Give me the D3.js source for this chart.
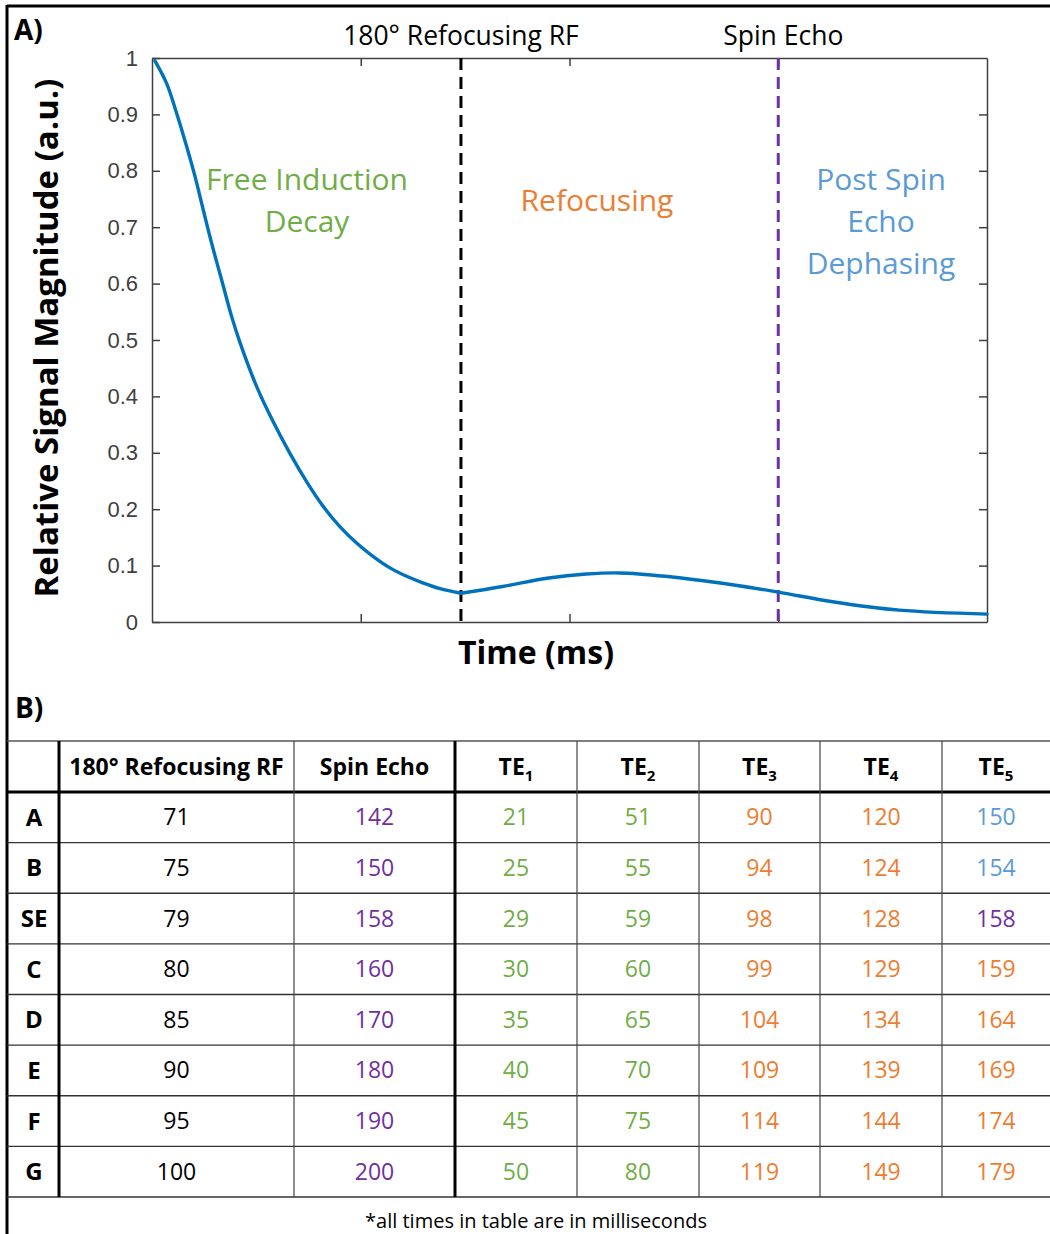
<!DOCTYPE html>
<html>
<head>
<meta charset="utf-8">
<script src="https://cdn.jsdelivr.net/npm/d3@7"></script>
<style>
  body { margin: 0; background: #fff; }
  svg { display: block; }
</style>
</head>
<body>
<svg id="fig" width="1050" height="1234"></svg>
<script>
// ---- panel A: signal curve ----
const fidTime   = [0.7, 3.5, 5.9, 8.3, 10.3, 12.3, 14.3, 16.7, 19.1, 21.1, 25.1, 29.1, 33.1, 37.1, 41, 45, 49, 53, 57, 61, 65, 69, 74]
const fidSignal = [0.995, 0.955, 0.902, 0.843, 0.790, 0.730, 0.671, 0.606, 0.541, 0.495, 0.417, 0.354, 0.298, 0.248, 0.205, 0.169, 0.140, 0.116, 0.096, 0.081, 0.069, 0.059, 0.051]
const echoTime   = [74, 84, 95, 104, 112, 123, 139, 150, 163, 179, 200]
const echoSignal = [0.051, 0.063, 0.078, 0.085, 0.087, 0.081, 0.066, 0.053, 0.036, 0.021, 0.014]
const rfTime = 74
const seTime = 150
const yTicks = [0, 0.1, 0.2, 0.3, 0.4, 0.5, 0.6, 0.7, 0.8, 0.9, 1]
const xTicks = [50, 100, 150]

// ---- panel B: table ----
const rowLabels = ["A", "B", "SE", "C", "D", "E", "F", "G"]
const refocusRF = [71, 75, 79, 80, 85, 90, 95, 100]
const spinEcho  = [142, 150, 158, 160, 170, 180, 190, 200]
const te1 = [21, 25, 29, 30, 35, 40, 45, 50]
const te2 = [51, 55, 59, 60, 65, 70, 75, 80]
const te3 = [90, 94, 98, 99, 104, 109, 114, 119]
const te4 = [120, 124, 128, 129, 134, 139, 144, 149]
const te5 = [150, 154, 158, 159, 164, 169, 174, 179]

const green = '#70AD47', orange = '#ED7D31', purple = '#7030A0', blue = '#5B9BD5'
const font = '"Open Sans", Lato, sans-serif'

const svg = d3.select('#fig')

// frame
svg.append('line').attr('x1', 7).attr('y1', 6).attr('x2', 1050).attr('y2', 6).attr('stroke', '#000').attr('stroke-width', 3)
svg.append('line').attr('x1', 7).attr('y1', 5).attr('x2', 7).attr('y2', 1234).attr('stroke', '#000').attr('stroke-width', 3)

const txt = (sel, s, size, color, weight) => sel.text(s).style('font-family', font).style('font-size', size + 'px')
  .style('font-weight', weight || 'normal').attr('fill', color).attr('text-anchor', 'middle')

txt(svg.append('text').attr('x', 14).attr('y', 40), 'A)', 28, '#000', 'bold').attr('text-anchor', 'start')
txt(svg.append('text').attr('x', 15).attr('y', 718), 'B)', 28, '#000', 'bold').attr('text-anchor', 'start')

// plot
const x = d3.scaleLinear().domain([0, 200]).range([152, 987])
const y = d3.scaleLinear().domain([0, 1]).range([622, 58])
const axisColor = '#404040'

const g = svg.append('g')

const yAxis = g.append('g').attr('transform', 'translate(152,0)')
  .call(d3.axisLeft(y).tickValues(yTicks).tickSize(-8).tickSizeOuter(0).tickPadding(14)
    .tickFormat(d => +d.toFixed(1)))
yAxis.selectAll('text').style('font-family', '"Liberation Sans", Arial, sans-serif').style('font-size', '22px').attr('fill', axisColor)

g.append('g').attr('transform', 'translate(987,0)')
  .call(d3.axisRight(y).tickValues(yTicks.slice(1, -1)).tickSize(-8).tickSizeOuter(0).tickFormat(''))
g.append('g').attr('transform', 'translate(0,622)')
  .call(d3.axisBottom(x).tickValues(xTicks).tickSize(-8).tickSizeOuter(0).tickFormat(''))
g.append('g').attr('transform', 'translate(0,58)')
  .call(d3.axisTop(x).tickValues(xTicks).tickSize(-8).tickSizeOuter(0).tickFormat(''))
g.selectAll('.domain, .tick line').attr('stroke', axisColor).attr('stroke-width', 1.5)

// event markers
g.append('line').attr('x1', x(rfTime)).attr('x2', x(rfTime)).attr('y1', y(1)).attr('y2', y(0))
  .attr('stroke', '#000').attr('stroke-width', 3).attr('stroke-dasharray', '12,7')
g.append('line').attr('x1', x(seTime)).attr('x2', x(seTime)).attr('y1', y(1)).attr('y2', y(0))
  .attr('stroke', purple).attr('stroke-width', 3).attr('stroke-dasharray', '12,7')

// signal: two smooth pieces meeting in the cusp at the refocusing pulse
const line = d3.line().x(d => x(d[0])).y(d => y(d[1])).curve(d3.curveCatmullRom.alpha(0.5))
const segs = [d3.zip(fidTime, fidSignal), d3.zip(echoTime, echoSignal)]
g.selectAll('path.sig').data(segs).join('path').attr('class', 'sig')
  .attr('d', line).attr('fill', 'none').attr('stroke', '#0072BD').attr('stroke-width', 3.4)
  .attr('stroke-linejoin', 'round').attr('stroke-linecap', 'round')

// labels
txt(svg.append('text').attr('x', x(rfTime)).attr('y', 45), '180° Refocusing RF', 26.5, '#000')
txt(svg.append('text').attr('x', x(seTime) + 5).attr('y', 45), 'Spin Echo', 26.5, '#000')

const regions = [
  { lines: ['Free Induction', 'Decay'], cx: 307, color: green },
  { lines: ['Refocusing'], cx: 597, color: orange, y0: 211 },
  { lines: ['Post Spin', 'Echo', 'Dephasing'], cx: 881, color: blue }
]
regions.forEach(r => {
  r.lines.forEach((s, i) => {
    txt(svg.append('text').attr('x', r.cx).attr('y', (r.y0 || 190) + i * 42), s, 30, r.color)
  })
})

txt(svg.append('text').attr('transform', 'translate(58,338) rotate(-90)'), 'Relative Signal Magnitude (a.u.)', 33, '#000', 'bold')
txt(svg.append('text').attr('x', 536).attr('y', 664), 'Time (ms)', 32, '#000', 'bold')

// ---- table ----
const colEdges = [7, 59, 294, 455, 577, 699, 820, 942, 1050]
const rowY = d3.scaleBand().domain(rowLabels).range([792, 1197])
const headTop = 741

const colorFor = (v, i) => v < refocusRF[i] ? green : v < spinEcho[i] ? orange : v === spinEcho[i] ? purple : blue
const columns = [
  { head: '180° Refocusing RF', vals: refocusRF, color: () => '#000' },
  { head: 'Spin Echo', vals: spinEcho, color: () => purple },
  { head: 'TE', sub: '1', vals: te1, color: colorFor },
  { head: 'TE', sub: '2', vals: te2, color: colorFor },
  { head: 'TE', sub: '3', vals: te3, color: colorFor },
  { head: 'TE', sub: '4', vals: te4, color: colorFor },
  { head: 'TE', sub: '5', vals: te5, color: colorFor }
]

const tb = svg.append('g')
// horizontal rules
tb.append('line').attr('x1', 7).attr('x2', 1050).attr('y1', headTop).attr('y2', headTop).attr('stroke', '#555').attr('stroke-width', 1.5)
rowLabels.forEach((r, i) => {
  const yy = rowY(r)
  tb.append('line').attr('x1', 7).attr('x2', 1050).attr('y1', yy).attr('y2', yy)
    .attr('stroke', i === 0 ? '#000' : '#333').attr('stroke-width', i === 0 ? 3 : 1.3)
})
tb.append('line').attr('x1', 7).attr('x2', 1050).attr('y1', rowY.range()[1]).attr('y2', rowY.range()[1]).attr('stroke', '#333').attr('stroke-width', 1.3)
// vertical rules
colEdges.slice(1, -1).forEach((cx, i) => {
  const thick = i === 0 || i === 2
  tb.append('line').attr('x1', cx).attr('x2', cx).attr('y1', headTop).attr('y2', rowY.range()[1])
    .attr('stroke', thick ? '#000' : '#444').attr('stroke-width', thick ? 3 : 1.2)
})

// row labels
rowLabels.forEach(r => {
  txt(tb.append('text').attr('x', (colEdges[0] + colEdges[1]) / 2 + 1).attr('y', rowY(r) + rowY.bandwidth() / 2 + 8.5), r, 24, '#000', 'bold')
})

columns.forEach((c, j) => {
  const cx = (colEdges[j + 1] + colEdges[j + 2]) / 2
  const h = txt(tb.append('text').attr('x', cx).attr('y', headTop + 34), c.head, 23, '#000', 'bold')
  if (c.sub) h.append('tspan').attr('dy', 6).style('font-size', '15px').text(c.sub)
  c.vals.forEach((v, i) => {
    txt(tb.append('text').attr('x', cx).attr('y', rowY(rowLabels[i]) + rowY.bandwidth() / 2 + 8), v, 23, c.color(v, i))
  })
})

txt(svg.append('text').attr('x', 536).attr('y', 1228), '*all times in table are in milliseconds', 20, '#000')
</script>
</body>
</html>
